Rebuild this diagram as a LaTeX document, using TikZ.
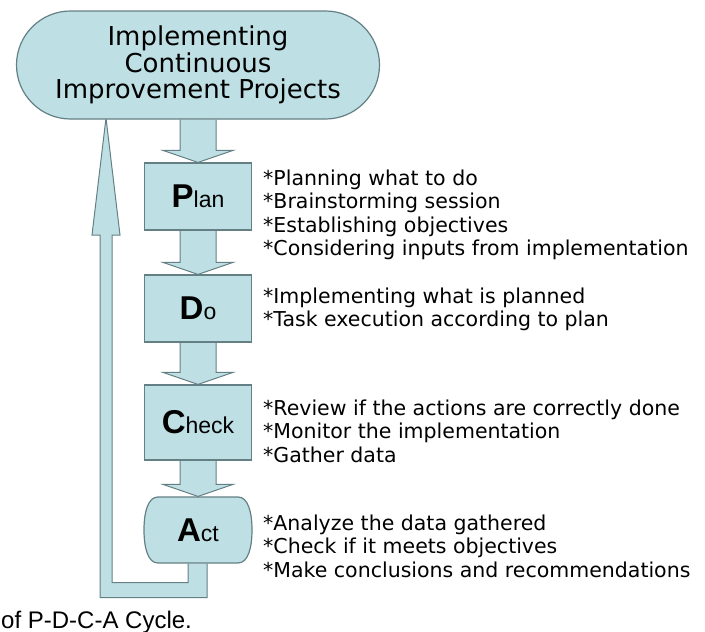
\documentclass[tikz,border=0pt]{standalone}
\usepackage{fontspec}
\setmainfont{DejaVu Sans}
\newfontfamily\arialfont{Liberation Sans}
\usetikzlibrary{calc,backgrounds}

\definecolor{pdcafill}{RGB}{190,224,228}
\definecolor{pdcaline}{RGB}{100,128,132}

\newcommand{\stagename}[2]{{\fontsize{33}{33}\selectfont\bfseries #1}{\fontsize{23}{23}\selectfont #2}}

\tikzset{
  stage/.style={draw=pdcaline, fill=pdcafill, line width=1.2pt, minimum width=107pt, minimum height=67pt, font=\arialfont},
  flow/.style={draw=pdcaline, fill=pdcafill, line width=1pt},
  notes/.style={anchor=base west, align=left, inner sep=0pt, font=\fontsize{20.5}{23.5}\selectfont},
}

\begin{document}
\begin{tikzpicture}[x=1pt, y=-1pt]
            \useasboundingbox (0,0) rectangle (705,632);

            \node[draw=pdcaline, fill=pdcafill, line width=1.2pt, rounded corners=54pt, minimum width=363pt, minimum height=108pt, align=center, font=\fontsize{26}{26.5}\selectfont] (title) at (198,65) {Implementing\\Continuous\\Improvement Projects};

            \node[stage] (plan) at (198,196.5) {\stagename{P}{lan}};
            \node[stage] (do) at (198,308.5) {\stagename{D}{o}};
            \node[stage, minimum height=75pt] (check) at (198,422.5) {\stagename{C}{heck}};
            \node[stage, draw=none, fill=none, minimum height=66pt] (act) at (198,530) {\stagename{A}{ct}};
            \coordinate (loop) at (106,118);

            % base of a multi-line node sits on its last line
            \node[notes] (plannotes) at (263,255.5) {*Planning what to do\\*Brainstorming session\\*Establishing objectives\\*Considering inputs from implementation};
            \node[notes] (donotes) at (263,326.5) {*Implementing what is planned\\*Task execution according to plan};
            \node[notes] (checknotes) at (263,462) {*Review if the actions are correctly done\\*Monitor the implementation\\*Gather data};
            \node[notes] (actnotes) at (263,577) {*Analyze the data gathered\\*Check if it meets objectives\\*Make conclusions and recommendations};

            \node[anchor=base west, inner sep=0pt, font=\arialfont\fontsize{24}{24}\selectfont] (caption) at (1,628) {of P-D-C-A Cycle.};

            \begin{scope}[on background layer]
                \foreach \a/\b in {title/plan, plan/do, do/check, check/act}
                    \draw[flow] ($(\a.south)+(-18,0)$) |- ($(\b.north)+(-35,-12)$) -- (\b.north) -- ($(\b.north)+(35,-12)$) -| ($(\a.south)+(18,0)$);
                \draw[flow] ($(act.south)+(-10,0)$) -- ++(0,19) -| ($(loop)+(6,117)$) -- ++(8,0) -- (loop) -- ($(loop)+(-14,117)$) -- ++(8,0) |- ($(act.south)+(9,34)$) -- ($(act.south)+(9,0)$);
                \draw[draw=pdcaline, fill=pdcafill, line width=1.2pt, shift={(act.center)}] (-40,-33) -- (40,-33) .. controls (50,-33) and (54,-18) .. (54,0) .. controls (54,18) and (50,33) .. (40,33) -- (-40,33) .. controls (-50,33) and (-54,18) .. (-54,0) .. controls (-54,-18) and (-50,-33) .. (-40,-33) -- cycle;
            \end{scope}
        \end{tikzpicture}
\end{document}
